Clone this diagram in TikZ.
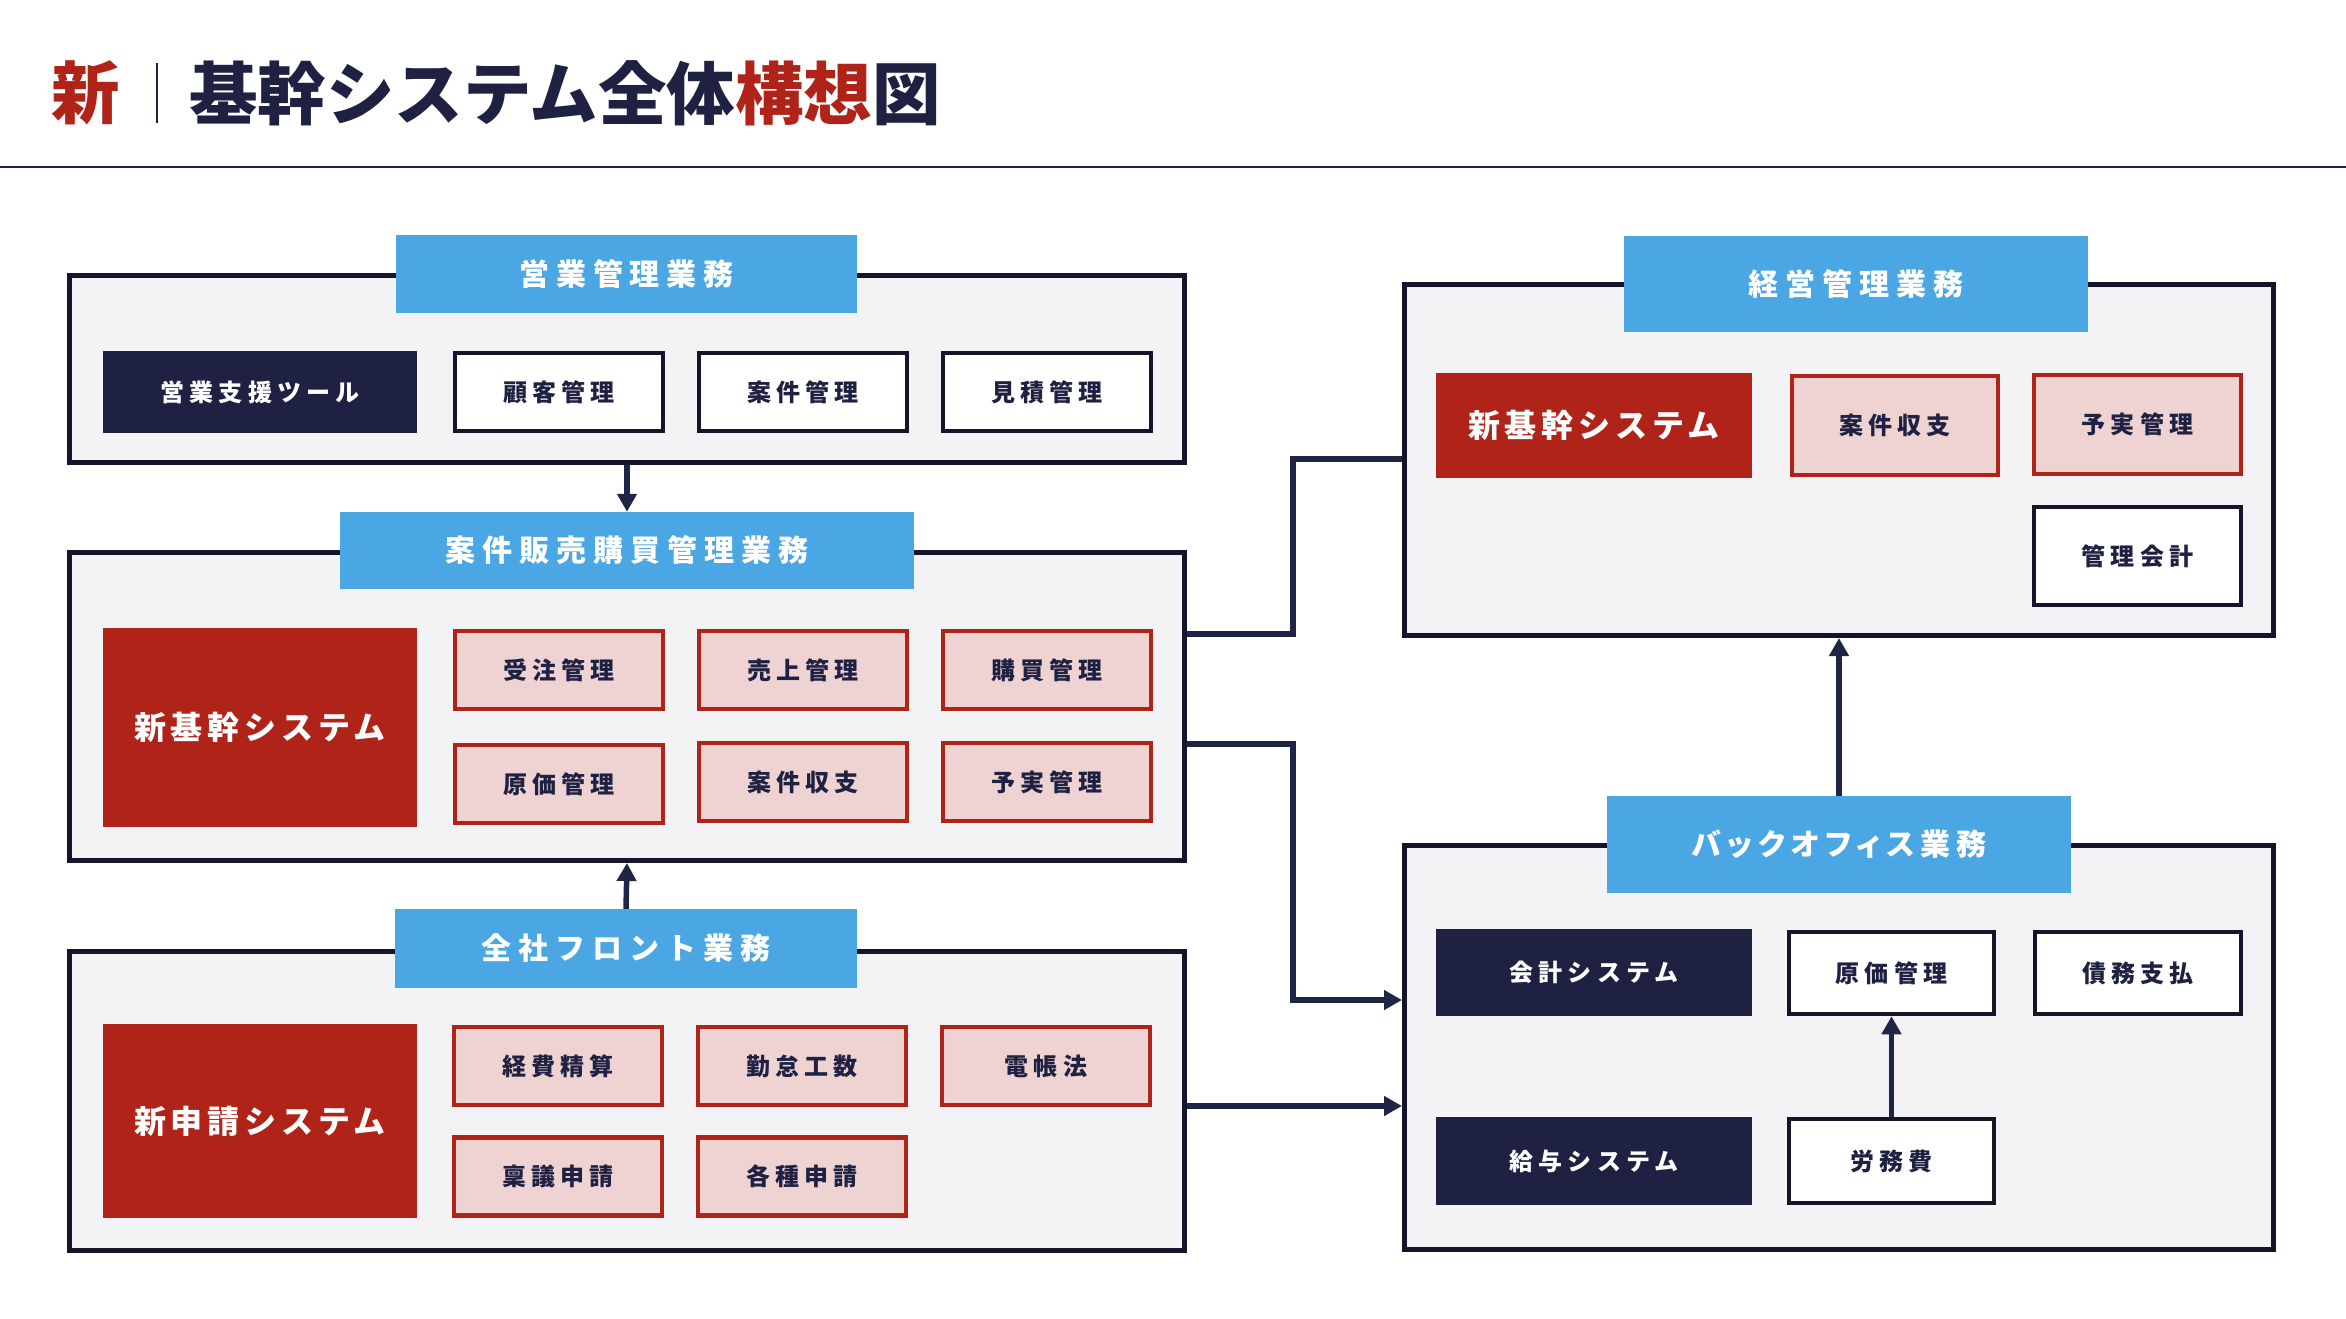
\documentclass[tikz,border=0pt]{standalone}
\usepackage{fontspec}
\usetikzlibrary{arrows.meta}
\newfontfamily\jp{Noto Sans CJK JP}
\newfontfamily\jphd{Noto Sans CJK JP}[LetterSpace=23]
\newfontfamily\jpkana{Noto Sans CJK JP}[LetterSpace=19,RawFeature=+palt]
\newfontfamily\jpbox{Noto Sans CJK JP}[LetterSpace=22]
\newfontfamily\jpbig{Noto Sans CJK JP}[LetterSpace=15]
\definecolor{navy}{HTML}{1E2142}
\definecolor{brick}{HTML}{AF2318}
\definecolor{pinkfill}{HTML}{EFD3D3}
\definecolor{hdblue}{HTML}{4BA6E4}
\definecolor{outerfill}{HTML}{F3F3F5}
\definecolor{outerdraw}{HTML}{14152B}
\definecolor{conncol}{HTML}{1F2545}
\tikzset{
  outerbox/.style={draw=outerdraw, fill=outerfill, line width=5pt, inner sep=0pt},
  hdr/.style={fill=hdblue, text=white, inner sep=0pt, font=\jphd\bfseries\fontsize{30}{30}\selectfont},
  hdrkana/.style={fill=hdblue, text=white, inner sep=0pt, font=\jpkana\bfseries\fontsize{30}{30}\selectfont},
  navybox/.style={fill=navy, text=white, inner sep=0pt, font=\jpbox\bfseries\fontsize{24}{24}\selectfont},
  whitebox/.style={fill=white, draw=outerdraw, line width=4.5pt, text=navy, inner sep=0pt, font=\jpbox\bfseries\fontsize{24}{24}\selectfont},
  pinkbox/.style={fill=pinkfill, draw=brick, line width=4.5pt, text=navy, inner sep=0pt, font=\jpbox\bfseries\fontsize{24}{24}\selectfont},
  redbox/.style={fill=brick, text=white, inner sep=0pt, font=\jpbig\bfseries\fontsize{32}{32}\selectfont},
  conn/.style={draw=conncol, line width=5.5pt},
  arr/.style={conn, -{Triangle[length=18pt,width=19pt]}},
  titlefont/.style={inner sep=0pt, font=\jp\bfseries\fontsize{68.5}{68.5}\selectfont}
}
\begin{document}
\begin{tikzpicture}[x=1pt,y=-1pt]
\useasboundingbox[fill=white] (0,0) rectangle (2346,1318);

% Title
\node[titlefont, text=brick, anchor=west] (tnew) at (51,93) {新};
\draw[draw=navy, line width=2.5pt] (157,63) coordinate (sepa) -- (157,123) coordinate (sepb);
\node[titlefont, text=navy, anchor=west] (ttitle) at (189,93) {基幹システム全体{\color{brick}構想}図};
\draw[draw=navy, line width=2.5pt] (0,167) coordinate (tla) -- (2346,167) coordinate (tlb);

% Group 1
\node[outerbox, minimum width=1115pt, minimum height=187pt] (g1) at (627,369) {};
\node[hdr, minimum width=461pt, minimum height=78pt] (h1) at (626.5,274) {営業管理業務};
\node[navybox, minimum width=314pt, minimum height=82pt] (g1a) at (260,392) {営業支援ツール};
\node[whitebox, minimum width=208pt, minimum height=78pt] (g1b) at (559,392) {顧客管理};
\node[whitebox, minimum width=208pt, minimum height=78pt] (g1c) at (803,392) {案件管理};
\node[whitebox, minimum width=208pt, minimum height=78pt] (g1d) at (1047,392) {見積管理};

% Group 2
\node[outerbox, minimum width=1115pt, minimum height=308pt] (g2) at (627,706.5) {};
\node[hdr, minimum width=574pt, minimum height=77pt] (h2) at (627,550.5) {案件販売購買管理業務};
\node[redbox, minimum width=314pt, minimum height=199pt] (g2sys) at (260,727.5) {新基幹システム};
\node[pinkbox, minimum width=208pt, minimum height=78pt] (g2a) at (559,670) {受注管理};
\node[pinkbox, minimum width=208pt, minimum height=78pt] (g2b) at (803,670) {売上管理};
\node[pinkbox, minimum width=208pt, minimum height=78pt] (g2c) at (1047,670) {購買管理};
\node[pinkbox, minimum width=208pt, minimum height=78pt] (g2d) at (559,784) {原価管理};
\node[pinkbox, minimum width=208pt, minimum height=78pt] (g2e) at (803,782) {案件収支};
\node[pinkbox, minimum width=208pt, minimum height=78pt] (g2f) at (1047,782) {予実管理};

% Group 3
\node[outerbox, minimum width=1115pt, minimum height=299pt] (g3) at (627,1101) {};
\node[hdr, minimum width=462pt, minimum height=79pt] (h3) at (626,948.5) {全社フロント業務};
\node[redbox, minimum width=314pt, minimum height=194pt] (g3sys) at (260,1121) {新申請システム};
\node[pinkbox, minimum width=208pt, minimum height=78pt] (g3a) at (558,1066) {経費精算};
\node[pinkbox, minimum width=208pt, minimum height=78pt] (g3b) at (802,1066) {勤怠工数};
\node[pinkbox, minimum width=208pt, minimum height=78pt] (g3c) at (1046,1066) {電帳法};
\node[pinkbox, minimum width=208pt, minimum height=78pt] (g3d) at (558,1176.5) {稟議申請};
\node[pinkbox, minimum width=208pt, minimum height=78pt] (g3e) at (802,1176.5) {各種申請};

% Right group 1
\node[outerbox, minimum width=869pt, minimum height=351pt] (g4) at (1839,460) {};
\node[hdr, minimum width=464pt, minimum height=96pt] (h4) at (1856,284) {経営管理業務};
\node[redbox, minimum width=316pt, minimum height=105pt] (g4sys) at (1594,425.5) {新基幹システム};
\node[pinkbox, minimum width=206pt, minimum height=99pt] (g4a) at (1895,425.5) {案件収支};
\node[pinkbox, minimum width=207pt, minimum height=99pt] (g4b) at (2137.5,424.5) {予実管理};
\node[whitebox, minimum width=207pt, minimum height=98pt] (g4c) at (2137.5,556) {管理会計};

% Right group 2
\node[outerbox, minimum width=869pt, minimum height=404pt] (g5) at (1839,1047.5) {};
\node[hdrkana, minimum width=464pt, minimum height=97pt] (h5) at (1839,844.5) {バックオフィス業務};
\node[navybox, minimum width=316pt, minimum height=87pt] (g5a) at (1594,972.5) {会計システム};
\node[whitebox, minimum width=205pt, minimum height=82pt] (g5b) at (1891.5,973) {原価管理};
\node[whitebox, minimum width=206pt, minimum height=82pt] (g5c) at (2138,973) {債務支払};
\node[navybox, minimum width=316pt, minimum height=88pt] (g5d) at (1594,1161) {給与システム};
\node[whitebox, minimum width=205pt, minimum height=84pt] (g5e) at (1891.5,1161) {労務費};

% Connectors
\draw[arr] (g1.south) -- (h2.north);
\draw[arr] (h3.north) -- (g2.south);
\coordinate (ja) at (1293,634);
\coordinate (jb) at (1293,459);
\draw[conn] (g2.east |- ja) -- (ja) -- (jb) -- (g4.west |- jb);
\coordinate (jc) at (1293,744);
\coordinate (jd) at (1293,1000);
\draw[arr] (g2.east |- jc) -- (jc) -- (jd) -- (g5.west |- jd);
\coordinate (je) at (1293,1106);
\draw[arr] (g3.east |- je) -- (g5.west |- je);
\draw[arr] (h5.north) -- (g4.south);
\draw[arr] (g5e.north) -- (g5b.south);
\end{tikzpicture}
\end{document}
